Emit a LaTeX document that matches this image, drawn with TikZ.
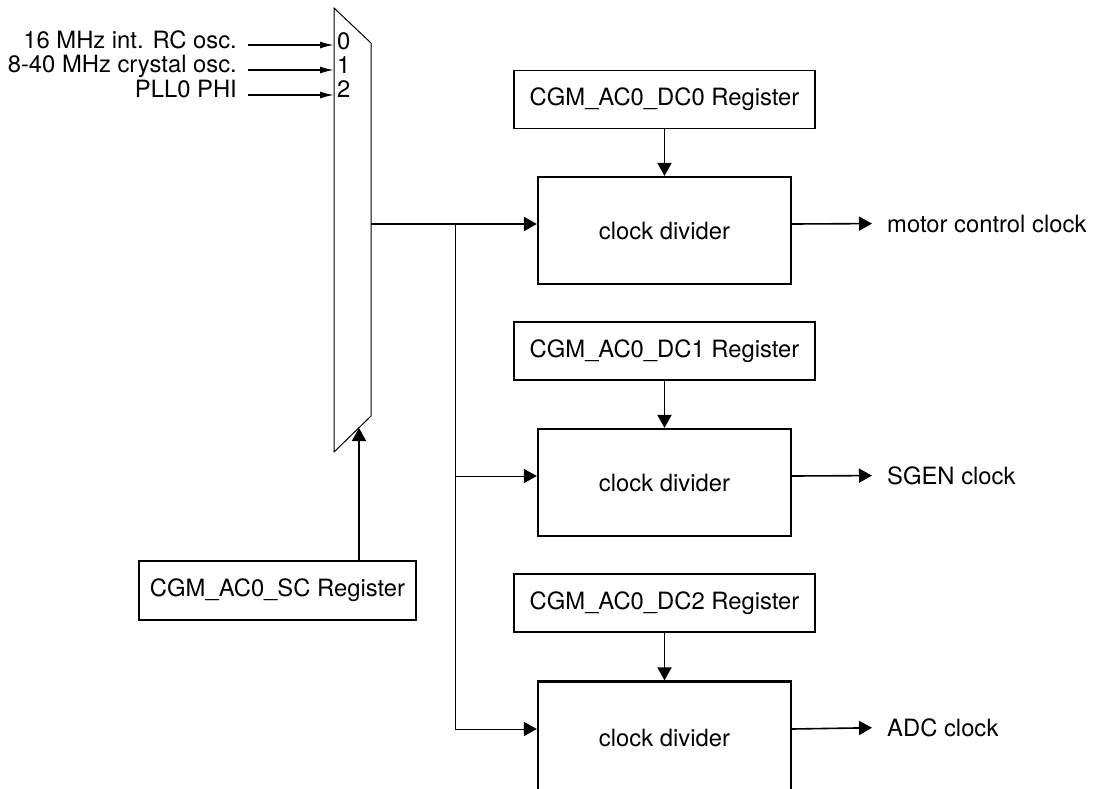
\documentclass[tikz,border=0pt]{standalone}
\usepackage{fontspec}
\setmainfont{TeX Gyre Heros}
\usetikzlibrary{arrows.meta}

\begin{document}
\begin{tikzpicture}[x=1pt, y=-1pt,
    every node/.style={font=\fontsize{23.8}{28}\selectfont, inner sep=0pt},
    regbox/.style={draw, line width=1.6pt, minimum width=301pt, minimum height=58pt},
    divbox/.style={draw, line width=2.2pt, minimum width=253pt, minimum height=107pt},
    sigarrow/.style={-{Triangle[length=13pt,width=14pt]}, line width=1.8pt},
    inarrow/.style={-{Latex[length=14pt,width=7pt]}, line width=1.6pt}]
    \useasboundingbox (0,0) rectangle (1094,788);
    \clip (0,0) rectangle (1094,788);

    % Draw the multiplexer
    \coordinate (muxtl) at (334,8);
    \coordinate (muxtr) at (371,43);
    \coordinate (muxbr) at (371,416);
    \coordinate (muxbl) at (334,452);
    \draw[line width=1pt] (muxtl) -- (muxtr) -- (muxbr) -- (muxbl) -- cycle;
    \coordinate (muxout) at (371,224);
    \coordinate (muxsel) at (359,428);

    % Mux inputs
    \node (sel0) at (337,41) [anchor=west] {0};
    \node (sel1) at (337,65) [anchor=west] {1};
    \node (sel2) at (337,89) [anchor=west] {2};
    \node (rcosc) at (237,48) [anchor=base east] {16 MHz int. RC osc.};
    \node (xosc) at (237,72.5) [anchor=base east] {8-40 MHz crystal osc.};
    \node (pllphi) at (237,97) [anchor=base east] {PLL0 PHI};
    \draw[inarrow] (248,45) -- (muxtl |- 0,45);
    \draw[inarrow] (248,70) -- (muxtl |- 0,70);
    \draw[inarrow] (248,95) -- (muxtl |- 0,95);

    % Select register
    \node[regbox, minimum width=277pt, minimum height=59pt] (screg) at (277.5,590.5) {CGM\_AC0\_SC Register};
    \draw[sigarrow] (screg.north -| muxsel) -- (muxsel);

    % Divider registers
    \node[regbox] (dcreg0) at (664.5,99.5) {CGM\_AC0\_DC0 Register};
    \node[regbox] (dcreg1) at (664.5,351) {CGM\_AC0\_DC1 Register};
    \node[regbox] (dcreg2) at (664.5,603) {CGM\_AC0\_DC2 Register};

    % Clock dividers
    \node[divbox] (div0) at (664.5,230.5) {clock divider};
    \node[divbox] (div1) at (664.5,482.5) {clock divider};
    \node[divbox, minimum height=112pt] (div2) at (664.5,737.5) {clock divider};
    \foreach \i in {0,1,2}
        \draw[sigarrow] (dcreg\i.south) -- (div\i.north);

    % Clock distribution
    \coordinate (split) at (455,224);
    \draw[sigarrow, line width=2.2pt] (muxout) -- ([yshift=6.5pt]div0.west);
    \draw[sigarrow, line width=1pt] (split) |- (div2.west |- 0,729);
    \draw[sigarrow, line width=1pt] (split |- 0,476) -- ([yshift=6.5pt]div1.west);

    % Output clocks
    \node (mcclk) at (887,223.5) [anchor=west] {motor control clock};
    \node (sgenclk) at (887,475.5) [anchor=west] {SGEN clock};
    \node (adcclk) at (887,727.5) [anchor=west] {ADC clock};
    \draw[sigarrow, line width=1.6pt, shorten >=15pt] ([yshift=6.5pt]div0.east) -- (mcclk.west);
    \draw[sigarrow, line width=1.6pt, shorten >=15pt] ([yshift=6.5pt]div1.east) -- (sgenclk.west);
    \draw[sigarrow, line width=1.6pt, shorten >=15pt] (div2.east |- 0,729) -- (adcclk.west);
\end{tikzpicture}
\end{document}
